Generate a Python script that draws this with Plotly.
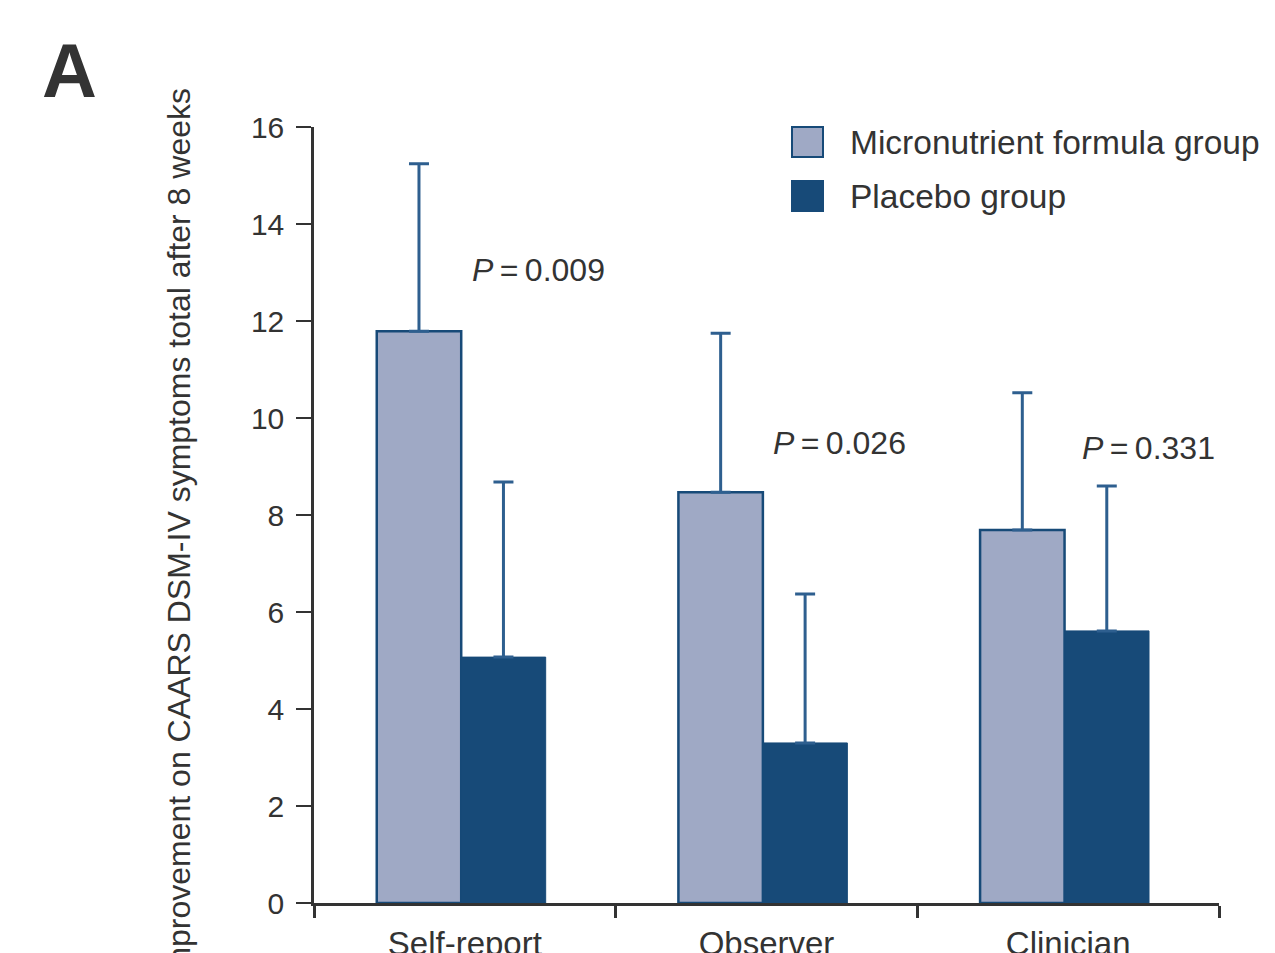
import plotly.graph_objects as go

categories = ["Self-report", "Observer", "Clinician"]
micro_mean = [11.79, 8.47, 7.69]
micro_sd = [3.45, 3.28, 2.83]
placebo_mean = [5.07, 3.30, 5.61]
placebo_sd = [3.61, 3.07, 2.99]
series_names = ["Micronutrient formula group", "Placebo group"]
p_labels = ["0.009", "0.026", "0.331"]
p_y = [13.05, 9.48, 9.38]
p_offset = [0.245, 0.242, 0.265]
y_ticks = [0, 2, 4, 6, 8, 10, 12, 14, 16]

FONT = "Liberation Sans"
TXT = "#333333"
LIGHT = "#9fa9c5"
DARK = "#174a78"
ERR = "#2e5f8f"

# screen geometry of the plot area (reference pixels)
PX0, PX1, PY0, PY1 = 313, 1218, 903, 127


def px(x):
    return (x - PX0) / (PX1 - PX0)


def py(y):
    return (PY0 - y) / (PY0 - PY1)


BW = 0.28
fig = go.Figure()
fig.add_trace(go.Bar(
    x=categories, y=micro_mean, name=series_names[0],
    width=BW, offset=-0.292,
    marker=dict(color=LIGHT, line=dict(color=DARK, width=2.5)),
    error_y=dict(type="data", symmetric=False, array=micro_sd,
                 arrayminus=[0] * 3, color=ERR, thickness=3, width=10),
    showlegend=False,
))
fig.add_trace(go.Bar(
    x=categories, y=placebo_mean, name=series_names[1],
    width=BW, offset=-0.012,
    marker=dict(color=DARK, line=dict(color=DARK, width=1)),
    error_y=dict(type="data", symmetric=False, array=placebo_sd,
                 arrayminus=[0] * 3, color=ERR, thickness=3, width=10),
    showlegend=False,
))

for i, (p, yy, off) in enumerate(zip(p_labels, p_y, p_offset)):
    fig.add_annotation(
        x=i + off, y=yy, xref="x", yref="y",
        text="<i>P</i>\u2009=\u2009" + p, showarrow=False,
        font=dict(family=FONT, size=32, color=TXT), xanchor="center",
    )

# manual legend
legend_colors = [LIGHT, DARK]
for j, (nm, col) in enumerate(zip(series_names, legend_colors)):
    top = 127 + j * 54
    fig.add_shape(type="rect", xref="paper", yref="paper",
                  x0=px(791), x1=px(822), y0=py(top + 30), y1=py(top),
                  fillcolor=col, line=dict(color=DARK, width=2))
    fig.add_annotation(x=px(847), y=py(top + 15),
                       xref="paper", yref="paper", text=nm, showarrow=False,
                       xanchor="left", yanchor="middle",
                       font=dict(family=FONT, size=33.5, color=TXT))

# panel letter
fig.add_annotation(x=px(39), y=py(26), xref="paper", yref="paper",
                   text="<b>A</b>", showarrow=False, xanchor="left", yanchor="top",
                   font=dict(family=FONT, size=76, color=TXT))

# y-axis title (cropped at bottom as in reference)
fig.add_annotation(x=px(177), y=py(86), xref="paper", yref="paper",
                   text="Improvement on CAARS DSM-IV symptoms total after 8 weeks",
                   textangle=-90, showarrow=False, xanchor="center", yanchor="top",
                   font=dict(family=FONT, size=32, color=TXT))

fig.update_layout(
    width=1275, height=953,
    margin=dict(l=306, r=64, t=119, b=58, autoexpand=False),
    paper_bgcolor="white", plot_bgcolor="white",
    barmode="overlay",
    font=dict(family=FONT, color=TXT),
    xaxis=dict(
        type="category", range=[-0.5, 2.5], tickson="boundaries",
        showline=True, linecolor=TXT, linewidth=2.5,
        ticks="outside", ticklen=12, tickwidth=2.5, tickcolor=TXT,
        tickfont=dict(family=FONT, size=33, color=TXT),
        ticklabelstandoff=10, showgrid=False, zeroline=False,
    ),
    yaxis=dict(
        range=[0, 16], tickvals=y_ticks,
        showline=True, linecolor=TXT, linewidth=2.5,
        ticks="outside", ticklen=15, tickwidth=2, tickcolor=TXT,
        tickfont=dict(family=FONT, size=30, color=TXT),
        ticklabelstandoff=6, showgrid=False, zeroline=False,
    ),
)

fig.write_html("out.html")
